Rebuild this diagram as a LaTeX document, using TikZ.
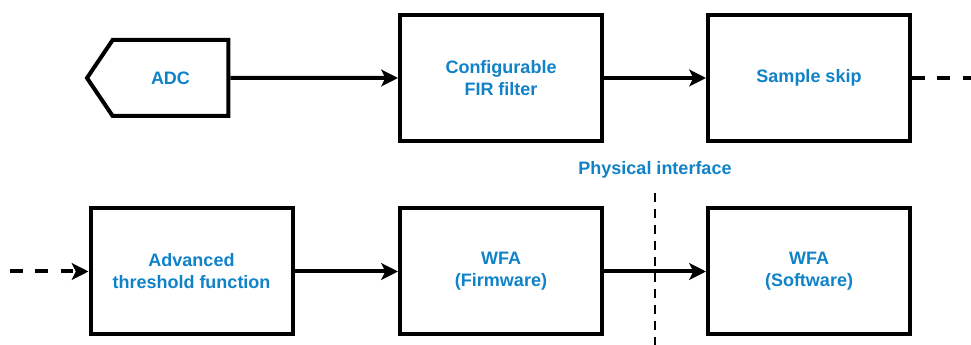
\documentclass[tikz,border=0pt]{standalone}
\usepackage{fontspec}
\setmainfont{Liberation Sans}
\usepackage{xcolor}
\usetikzlibrary{positioning,arrows.meta,shapes.symbols}
\definecolor{labelblue}{RGB}{16,130,200}

\begin{document}
\begin{tikzpicture}[x=0.75pt, y=-0.75pt,
  block/.style={rectangle, draw=black, line width=3pt, fill=white,
                minimum width=151.5pt, minimum height=94.5pt, align=center,
                font=\fontsize{13.5}{16.5}\selectfont\bfseries, text=labelblue},
  source/.style={signal, signal to=west, signal from=nowhere, signal pointer angle=112,
                 draw=black, line width=3pt, fill=white,
                 minimum width=106pt, minimum height=57pt,
                 font=\fontsize{13.5}{16.5}\selectfont\bfseries, text=labelblue},
  arrow/.style={-{Stealth[length=12.5pt, width=12.5pt, inset=3pt]}, line width=3pt},
  link/.style={line width=3pt, dash pattern=on 9.5pt off 9.5pt},
  border/.style={line width=1.5pt, dash pattern=on 7pt off 5pt},
  note/.style={font=\fontsize{13.5}{16.5}\selectfont\bfseries, text=labelblue}
]
  \useasboundingbox (0,0) rectangle (971,345);

  % top row
  \node[source] (ADC) at (170.5, 78) {ADC};
  \node[block] (FIR) at (501, 78) {Configurable\\FIR filter};
  \node[block] (SKIP) at (809, 78) {Sample skip};
  \coordinate (outR) at (971, 78);

  % bottom row
  \coordinate (inL) at (10, 271.5);
  \node[block] (ATF) at (191.5, 271.5) {Advanced\\threshold function};
  \node[block] (FW) at (501, 271.5) {WFA\\(Firmware)};
  \node[block] (SW) at (809, 271.5) {WFA\\(Software)};

  \draw[arrow] (ADC) -- (FIR);
  \draw[arrow] (FIR) -- (SKIP);
  \draw[link] (SKIP) -- (outR);
  \draw[link, -{Stealth[length=12.5pt, width=12.5pt, inset=3pt]}] (inL) -- (ATF);
  \draw[arrow] (ATF) -- (FW);

  % interface between firmware and software
  \node[note] (PHY) at (655, 170) {Physical interface};
  \coordinate (phyT) at (655, 193);
  \coordinate (phyB) at (655, 345);
  \draw[border] (phyT) -- (phyB);
  \draw[arrow] (FW) -- (SW);
\end{tikzpicture}
\end{document}
